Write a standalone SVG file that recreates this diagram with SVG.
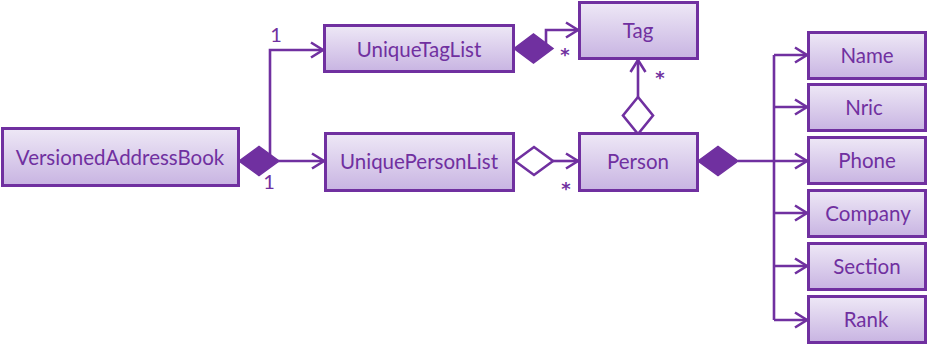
<svg xmlns="http://www.w3.org/2000/svg" width="932" height="354" viewBox="0 0 932 354">
  <defs>
    <linearGradient id="boxFill" x1="0" y1="0" x2="0" y2="1">
      <stop offset="0" stop-color="#EEE8F6"/>
      <stop offset="1" stop-color="#C8B4E2"/>
    </linearGradient>
    <marker id="open" markerUnits="userSpaceOnUse" markerWidth="16" markerHeight="20" refX="13" refY="9" orient="auto" viewBox="0 0 16 20">
      <path d="M1,1.5 L13,9 L1,16.5" fill="none" stroke="#7030A0" stroke-width="2.6"/>
    </marker>
  </defs>
  <style>
    .box { fill: url(#boxFill); stroke: #7030A0; stroke-width: 3; }
    .lbl { font-family: Lato, "Open Sans", sans-serif; font-size: 20.5px; fill: #7030A0; text-anchor: middle; dominant-baseline: central; }
    .mult { font-family: Lato, "Open Sans", sans-serif; font-size: 20px; fill: #7030A0; text-anchor: middle; }
    .star { font-family: "DejaVu Sans", sans-serif; font-size: 18px; font-weight: bold; fill: #7030A0; text-anchor: middle; }
    .line { fill: none; stroke: #7030A0; stroke-width: 2.6; }
    .filled { fill: #7030A0; stroke: #7030A0; stroke-width: 1.5; }
    .hollow { fill: #FFFFFF; stroke: #7030A0; stroke-width: 2.6; }
  </style>

  <!-- associations -->
  <g id="connectors">
    <!-- VersionedAddressBook composes both lists -->
    <path class="line" d="M270,161 L270,50 L323,50" marker-end="url(#open)"/>
    <path class="line" d="M270,161 L324,161" marker-end="url(#open)"/>
    <polygon class="filled" points="239,161 259,146.5 279,161 259,175.5"/>
    <text class="mult" x="276" y="42">1</text>
    <text class="mult" x="269" y="189">1</text>

    <!-- UniqueTagList composes Tag -->
    <path class="line" d="M546,48 L546,30 L578,30" marker-end="url(#open)"/>
    <polygon class="filled" points="514,48.5 533.5,34 553,48.5 533.5,63"/>
    <text class="star" x="565" y="61">*</text>

    <!-- UniquePersonList aggregates Person -->
    <path class="line" d="M553,161 L578,161" marker-end="url(#open)"/>
    <polygon class="hollow" points="515,161 534,147 553,161 534,175"/>
    <text class="star" x="566" y="195">*</text>

    <!-- Person aggregates Tag -->
    <path class="line" d="M638,97 L638,60" marker-end="url(#open)"/>
    <polygon class="hollow" points="638,134 623,115.5 638,97 653,115.5"/>
    <text class="star" x="660" y="84">*</text>

    <!-- Person composes its fields -->
    <polygon class="filled" points="698,161 718,146.5 738,161 718,175.5"/>
    <path class="line" d="M738,161 L774,161"/>
    <path class="line" d="M774,55 L774,320"/>
    <path class="line" d="M774,55 L807,55" marker-end="url(#open)"/>
    <path class="line" d="M774,107 L807,107" marker-end="url(#open)"/>
    <path class="line" d="M774,161 L807,161" marker-end="url(#open)"/>
    <path class="line" d="M774,213 L807,213" marker-end="url(#open)"/>
    <path class="line" d="M774,266 L807,266" marker-end="url(#open)"/>
    <path class="line" d="M774,320 L807,320" marker-end="url(#open)"/>
  </g>

  <g id="VersionedAddressBook">
    <rect class="box" x="2.5" y="128.5" width="236" height="57"/>
    <text class="lbl" x="120" y="157">VersionedAddressBook</text>
  </g>
  <g id="UniqueTagList">
    <rect class="box" x="324.5" y="25.5" width="189" height="46"/>
    <text class="lbl" x="419" y="48.5">UniqueTagList</text>
  </g>
  <g id="UniquePersonList">
    <rect class="box" x="325.5" y="133.5" width="188" height="57"/>
    <text class="lbl" x="419" y="161">UniquePersonList</text>
  </g>
  <g id="Tag">
    <rect class="box" x="579.5" y="2.5" width="118" height="56"/>
    <text class="lbl" x="638" y="30">Tag</text>
  </g>
  <g id="Person">
    <rect class="box" x="579.5" y="133.5" width="118" height="57"/>
    <text class="lbl" x="638" y="161">Person</text>
  </g>
  <g id="Name">
    <rect class="box" x="808.5" y="32.5" width="117" height="46"/>
    <text class="lbl" x="867" y="55">Name</text>
  </g>
  <g id="Nric">
    <rect class="box" x="808.5" y="84.5" width="117" height="46"/>
    <text class="lbl" x="864" y="107">Nric</text>
  </g>
  <g id="Phone">
    <rect class="box" x="808.5" y="137.5" width="117" height="46"/>
    <text class="lbl" x="867" y="160">Phone</text>
  </g>
  <g id="Company">
    <rect class="box" x="808.5" y="190.5" width="117" height="46"/>
    <text class="lbl" x="868" y="213">Company</text>
  </g>
  <g id="Section">
    <rect class="box" x="808.5" y="243.5" width="117" height="46"/>
    <text class="lbl" x="867" y="266">Section</text>
  </g>
  <g id="Rank">
    <rect class="box" x="808.5" y="296.5" width="117" height="46"/>
    <text class="lbl" x="866" y="319">Rank</text>
  </g>
</svg>
